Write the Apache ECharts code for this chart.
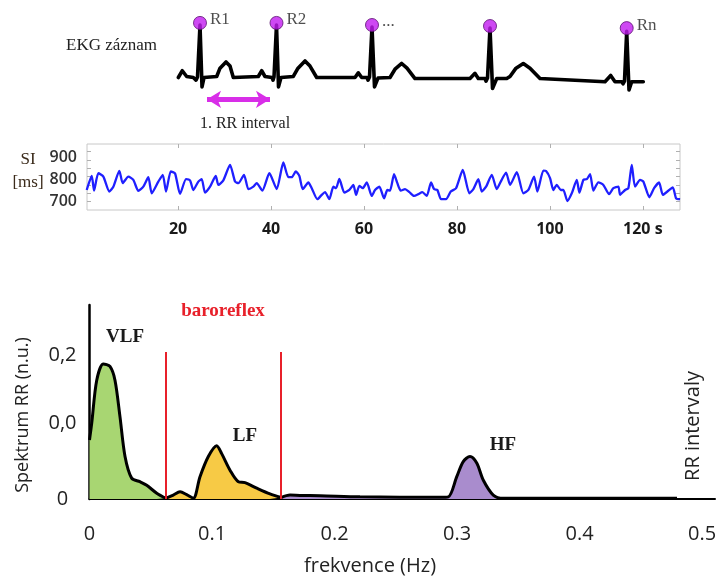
<!DOCTYPE html>
<html><head><meta charset="utf-8">
<script src="https://cdn.jsdelivr.net/npm/echarts@6/dist/echarts.min.js"></script>
<style>html,body{margin:0;padding:0;background:#fff}#c{width:720px;height:576px}</style>
</head><body><div id="c"></div>
<script>
// ---- EKG schematic (time units, amplitude units) ----
const ekgT = [8.3,12.3,16.7,23.3,26,27.5,30,32,34,46.7,50,56,60,63.3,88.3,91.7,95,102,103,104,106.5,108.5,111,123.3,128,135,140,146.7,185,188.3,191.7,197,198,199.5,202,204.5,208,220,225,231.7,237,245,300,305,308.3,315,316,317.5,320,322.5,326.7,336.7,340,346,353.3,360,370,435,440.7,445,452,453,454.5,456.7,459,461.7,473.3];
const ekgA = [-0.01,0.12,0.01,-0.01,-0.06,0,1.0,-0.19,-0.01,0.01,0.17,0.29,0.21,-0.01,0.01,0.12,0.01,-0.01,-0.06,0,1.0,-0.19,-0.01,0.01,0.17,0.31,0.21,-0.01,-0.01,0.08,-0.01,-0.01,-0.06,0,0.96,-0.19,-0.02,-0.01,0.15,0.26,0.17,-0.03,-0.03,0.07,-0.03,-0.03,-0.08,-0.02,0.94,-0.22,-0.03,-0.03,0.01,0.17,0.26,0.17,-0.03,-0.09,0.03,-0.09,-0.09,-0.13,-0.08,0.88,-0.25,-0.09,-0.09];
const rPeakT = [30,106.5,202,320,456.7];
const rPeakA = [1.04,1.04,1.0,0.98,0.94];
const rLabels = ['R1','R2','...','','Rn'];
const rrArrowT = [37,100];
const rrArrowA = -0.43;

// ---- SI (RR interval) series ----
const siTime = [0.34,1.42,1.92,2.84,3.92,5.21,6.07,7.36,8.09,9.30,10.37,11.45,12.52,13.60,14.33,15.75,16.70,17.41,18.42,19.35,20.42,21.71,22.57,23.28,24.36,25.09,25.80,26.88,28.10,28.66,29.74,31.18,32.26,32.97,34.19,35.12,36.20,36.93,38.13,39.64,41.23,42.65,43.73,44.46,45.32,46.09,46.83,48.03,48.76,49.97,50.91,51.62,52.55,53.41,53.99,54.70,55.78,56.85,57.71,58.30,59.00,59.74,60.60,61.67,62.38,63.31,64.32,65.03,65.61,66.47,67.18,67.91,68.84,69.77,70.78,71.70,72.56,73.51,74.43,75.08,75.79,76.59,77.66,78.67,79.81,81.26,82.68,83.54,84.61,85.35,86.27,87.50,88.57,89.43,90.57,91.44,92.88,94.30,95.37,96.60,97.31,98.60,99.18,100.04,100.75,101.48,102.35,102.91,103.77,104.71,105.79,106.35,107.21,107.94,108.65,109.36,110.44,111.51,112.74,113.66,114.74,115.11,116.18,116.89,117.62,118.33,119.41,120.12,121.41,122.42,123.50,124.30,125.29,126.45,127.16,128.02];
const siValue = [751,815,748,827,812,744,766,838,782,812,797,747,766,809,736,789,820,744,835,826,733,800,795,751,789,800,739,766,815,774,795,865,789,782,820,755,766,782,748,827,755,876,809,809,835,815,755,785,759,709,729,741,709,766,759,801,739,751,774,729,770,759,785,724,751,766,713,751,748,823,782,748,755,741,724,732,741,724,785,755,751,709,709,744,759,842,736,755,800,744,766,820,755,789,830,774,832,736,751,812,744,839,837,805,751,774,751,751,701,736,797,739,797,800,823,748,786,774,732,759,766,729,751,759,865,766,797,789,718,759,785,729,744,763,713,709];
const siXTicks = [20,40,60,80,100,120];
const siYLabels = [700,800,900];
const siYMinorTicks = [698,736,774,812,850,888,925];

// ---- Spectrum ----
const specFreq = [0,0.0018,0.0059,0.0113,0.0167,0.0208,0.0249,0.029,0.0344,0.0412,0.0467,0.0549,0.0622,0.0684,0.0739,0.0793,0.0847,0.0902,0.097,0.1038,0.1079,0.1147,0.1215,0.1269,0.1365,0.1473,0.1563,0.1637,0.1718,0.1882,0.2208,0.2861,0.2929,0.2998,0.3051,0.3106,0.3161,0.3215,0.3296,0.3378,0.4796];
const specValue = [0.082,0.105,0.165,0.1875,0.184,0.165,0.114,0.059,0.029,0.024,0.019,0.008,0.001,0.0055,0.010,0.006,0.001,0.031,0.059,0.074,0.063,0.040,0.024,0.0227,0.015,0.007,0.002,0.0055,0.005,0.0046,0.003,0.0024,0.003,0.031,0.052,0.059,0.05,0.026,0.0055,0.001,0.001];
const bandEdges = [0.0622, 0.1563];
const bandColors = ['#a8d672','#f7ca45','#a98ccd'];
const freqTicks = [0,0.1,0.2,0.3,0.4,0.5];
const specYTicks = [0,0.105,0.2];
const specYLabels = ['0','0,0','0,2'];

const pts = specFreq.map((f,i)=>[f,specValue[i]]);
const seg = (a,b)=>pts.filter(p=>p[0]>=a-1e-9 && p[0]<=b+1e-9);
const segs = [seg(0,bandEdges[0]), seg(bandEdges[0],bandEdges[1]), seg(bandEdges[1],1)];

const serif = 'Liberation Serif';
const sans = 'Open Sans';

const chart = echarts.init(document.getElementById('c'), null, {renderer:'canvas'});
chart.setOption({
  animation:false,
  backgroundColor:'#fff',
  grid:[
    {left:170, width:480, top:19.8, height:109.2},
    {left:87, width:593, top:144, height:66, show:true, borderColor:'#c8c8c8', borderWidth:1, backgroundColor:'transparent'},
    {left:89.5, right:5, top:305, bottom:77}
  ],
  xAxis:[
    {gridIndex:0, type:'value', min:0, max:480, show:false},
    {gridIndex:1, type:'value', min:0.4, max:128, position:'bottom',
      axisLine:{show:false}, splitLine:{show:false},
      axisTick:{show:true, inside:true, length:4, customValues:siXTicks, lineStyle:{color:'#b0b0b0'}},
      axisLabel:{customValues:siXTicks, margin:11, fontFamily:sans, fontWeight:'bold', fontSize:16, color:'#1a1a1a',
        formatter:v=> v===120 ? '120 s' : String(v)}},
    {gridIndex:1, type:'value', min:0.4, max:128, position:'top',
      axisLine:{show:false}, splitLine:{show:false}, axisLabel:{show:false},
      axisTick:{show:true, inside:true, length:4, customValues:siXTicks, lineStyle:{color:'#b0b0b0'}}},
    {gridIndex:2, type:'value', min:0, max:0.5106,
      axisLine:{show:true, onZero:false, lineStyle:{color:'#000', width:2}},
      axisTick:{show:false}, splitLine:{show:false},
      axisLabel:{customValues:freqTicks, margin:25, fontFamily:sans, fontSize:20, color:'#222',
        formatter:v=> v===0 ? '0' : v.toFixed(1)}}
  ],
  yAxis:[
    {gridIndex:0, type:'value', min:-1, max:1.1, show:false},
    {gridIndex:1, type:'value', min:660, max:960, position:'left',
      axisLine:{show:false}, splitLine:{show:false},
      axisTick:{show:true, inside:true, length:4, customValues:siYMinorTicks, lineStyle:{color:'#b0b0b0'}},
      axisLabel:{customValues:siYLabels, margin:10, fontFamily:sans, fontWeight:600, fontSize:16, color:'#333'}},
    {gridIndex:1, type:'value', min:660, max:960, position:'right',
      axisLine:{show:false}, splitLine:{show:false}, axisLabel:{show:false},
      axisTick:{show:true, inside:true, length:4, customValues:siYMinorTicks, lineStyle:{color:'#b0b0b0'}}},
    {gridIndex:2, type:'value', min:0, max:0.2694,
      axisLine:{show:true, lineStyle:{color:'#000', width:2.5}},
      axisTick:{show:false}, splitLine:{show:false},
      axisLabel:{customValues:specYTicks, margin:27, align:'center', fontFamily:sans, fontSize:20, color:'#222',
        formatter:v=> specYLabels[specYTicks.indexOf(v)]}}
  ],
  series:[
    {type:'line', xAxisIndex:0, yAxisIndex:0, data:ekgT.map((t,i)=>[t,ekgA[i]]),
      showSymbol:false, lineStyle:{color:'#000', width:3.6, join:'round', cap:'round'}, silent:true,
      markLine:{silent:true, symbol:['arrow','arrow'], symbolSize:[13,14], label:{show:false},
        lineStyle:{color:'#d82ee8', width:5, type:'solid'},
        data:[[{coord:[rrArrowT[0],rrArrowA]},{coord:[rrArrowT[1],rrArrowA]}]]}},
    {type:'scatter', xAxisIndex:0, yAxisIndex:0, data:rPeakT.map((t,i)=>[t,rPeakA[i]]),
      symbolSize:13, itemStyle:{color:'#c21cf0', borderColor:'#5a1070', borderWidth:1}, z:5,
      label:{show:true, position:'right', distance:3, offset:[0,-3], fontFamily:serif, fontSize:17, color:'#222',
        formatter:p=>rLabels[p.dataIndex]}},
    {type:'line', xAxisIndex:1, yAxisIndex:1, data:siTime.map((t,i)=>[t,siValue[i]]),
      showSymbol:false, smooth:0.2, lineStyle:{color:'#1f1fff', width:2.3}, silent:true},
    ...segs.map((d,i)=>({type:'line', xAxisIndex:3, yAxisIndex:3, data:d, showSymbol:false, smooth:0.3,
      lineStyle:{color:'#000', width:3}, areaStyle:{color:bandColors[i], opacity:1}, silent:true, z:3})),
    {type:'line', xAxisIndex:3, yAxisIndex:3, data:[], silent:true,
      markLine:{silent:true, symbol:['none','none'], label:{show:false}, lineStyle:{color:'#e8202a', width:2, type:'solid'},
        data:bandEdges.map(f=>[{coord:[f,0]},{coord:[f,0.204]}])}}
  ],
  graphic:[
    {type:'text', left:66, top:37, style:{text:'EKG záznam', font:'17px "Liberation Serif"', fill:'#222'}},
    {type:'text', x:245, y:124, style:{text:'1. RR interval', font:'16px "Liberation Serif"', fill:'#222', align:'center', verticalAlign:'middle'}},
    {type:'text', x:28, y:160, style:{text:'SI', font:'17px "Liberation Serif"', fill:'#3b2b1b', align:'center', verticalAlign:'middle'}},
    {type:'text', x:28, y:183, style:{text:'[ms]', font:'17px "Liberation Serif"', fill:'#3b2b1b', align:'center', verticalAlign:'middle'}},
    {type:'text', x:223, y:311, style:{text:'baroreflex', font:'bold 19px "Liberation Serif"', fill:'#e8202a', align:'center', verticalAlign:'middle'}},
    {type:'text', x:125, y:337, style:{text:'VLF', font:'bold 19px "Liberation Serif"', fill:'#1a1a1a', align:'center', verticalAlign:'middle'}},
    {type:'text', x:245, y:436, style:{text:'LF', font:'bold 19px "Liberation Serif"', fill:'#1a1a1a', align:'center', verticalAlign:'middle'}},
    {type:'text', x:503, y:445, style:{text:'HF', font:'bold 19px "Liberation Serif"', fill:'#1a1a1a', align:'center', verticalAlign:'middle'}},
    {type:'text', x:370, y:566, style:{text:'frekvence (Hz)', font:'20px "Open Sans"', fill:'#222', align:'center', verticalAlign:'middle'}},
    {type:'text', x:23, y:415, rotation:Math.PI/2, style:{text:'Spektrum RR (n.u.)', font:'18px "Open Sans"', fill:'#222', align:'center', verticalAlign:'middle'}},
    {type:'text', x:693, y:426, rotation:Math.PI/2, style:{text:'RR intervaly', font:'20px "Open Sans"', fill:'#222', align:'center', verticalAlign:'middle'}}
  ]
});
</script></body></html>
